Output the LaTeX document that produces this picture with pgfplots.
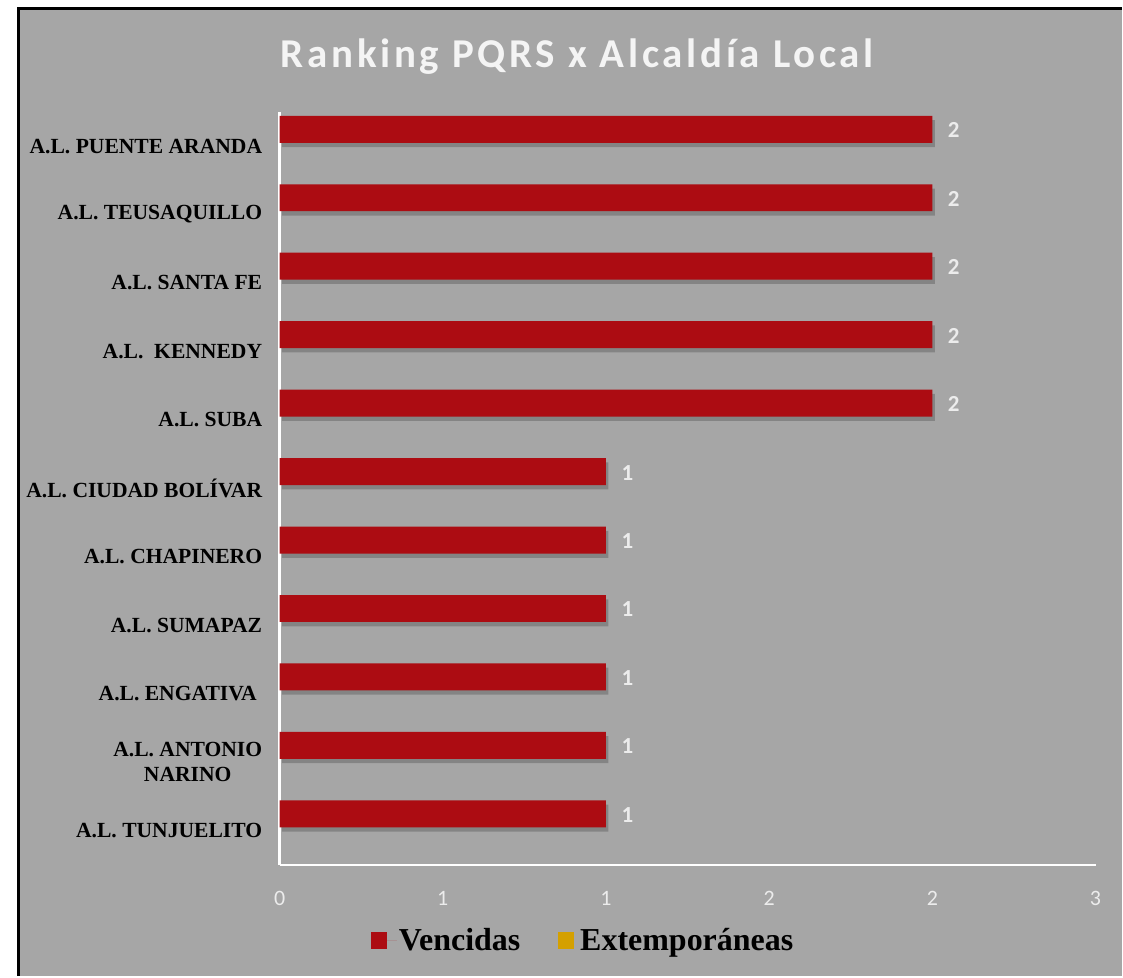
\documentclass[border=0pt]{standalone}
\usepackage{pgfplots}
\pgfplotsset{compat=1.18}
\usepackage{pgfplotstable}
\usepackage{fontspec}
\setmainfont{Liberation Serif}
\newfontfamily\carlito{Carlito}
\newfontfamily\carlitoT[LetterSpace=9]{Carlito}
\definecolor{bg}{RGB}{166,166,166}
\definecolor{barred}{RGB}{172,12,18}
\definecolor{baryel}{RGB}{212,160,0}
\definecolor{lbl}{RGB}{236,236,236}
\definecolor{ttl}{RGB}{244,244,244}

\pgfplotstableread{
y v
1 1
2 1
3 1
4 1
5 1
6 1
7 2
8 2
9 2
10 2
11 2
}\vencidas

\begin{document}
\begin{tikzpicture}
\fill[white] (0pt,0pt) rectangle (1123pt,-977pt);
\fill[bg] (17pt,-7pt) rectangle (1123pt,-977pt);
\draw[line width=3pt] (18.5pt,-977pt) -- (18.5pt,-8.5pt) -- (1123pt,-8.5pt);
\node[anchor=base, font=\carlitoT\bfseries\fontsize{41}{43}\selectfont, text=ttl] at (578pt,-68pt) {Ranking PQRS x Alcaldía Local};
\begin{axis}[
  at={(280pt,-866pt)}, anchor=south west,
  scale only axis, width=817pt, height=754pt,
  xmin=0, xmax=2.5, ymin=0.5, ymax=11.5,
  xbar, bar width=27pt,
  axis x line*=bottom, axis y line*=left,
  axis line style={white, line width=2.5pt, -},
  major tick length=0pt,
  xtick={0,0.5,1,1.5,2,2.5}, xticklabels={0,1,1,2,2,3},
  xticklabel style={font=\carlito\fontsize{22}{24}\selectfont, text=lbl, yshift=-23pt},
  ytick={1,...,11},
  yticklabels={A.L. TUNJUELITO, {A.L. ANTONIO\\NARINO}, A.L. ENGATIVA\ , A.L. SUMAPAZ, A.L. CHAPINERO, A.L. CIUDAD BOLÍVAR, A.L. SUBA, A.L.\ \ KENNEDY, A.L. SANTA FE, A.L. TEUSAQUILLO, A.L. PUENTE ARANDA},
  yticklabel style={font=\bfseries\fontsize{21.6}{24.5}\selectfont, align=center, text=black, xshift=-14pt},
  /pgf/number format/assume math mode=true,
  clip=false,
  legend style={at={(0.372,-0.1)}, anchor=center, draw=none, fill=none,
    legend columns=2, font=\bfseries\fontsize{32}{34}\selectfont,
    /tikz/every even column/.append style={column sep=36pt}},
]
\addplot[fill=black, draw=none, opacity=0.2, bar shift=12.5pt, xshift=2.5pt, forget plot] table[x=v, y=y] {\vencidas};
\addplot[fill=barred, draw=none, bar shift=16.8pt,
  legend image code/.code={\fill[barred] (0pt,-8.5pt) rectangle (16pt,8.5pt); \path[draw=none] (0pt,0pt) -- (26pt,0pt);},
  nodes near coords,
  nodes near coords style={font=\carlito\bfseries\fontsize{23}{24}\selectfont, text=lbl, anchor=west, xshift=12pt, yshift=-1pt}]
  table[x=v, y=y] {\vencidas};
\addlegendentry{Vencidas}
\addlegendimage{draw=none, legend image code/.code={\fill[baryel] (0pt,-8.5pt) rectangle (16pt,8.5pt); \path[draw=none] (0pt,0pt) -- (20pt,0pt);}}
\addlegendentry{Extemporáneas}
\end{axis}
\end{tikzpicture}
\end{document}
